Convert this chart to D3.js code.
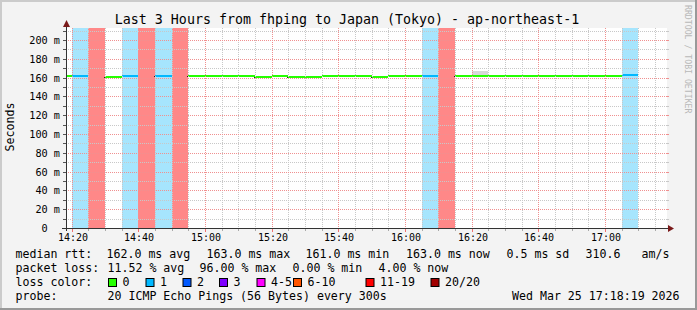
<!DOCTYPE html>
<html><head><meta charset="utf-8">
<script src="https://cdn.jsdelivr.net/npm/d3@7"></script>
<style>
html,body{margin:0;padding:0;background:#f3f3f3;}
svg{display:block;}
text{font-family:"DejaVu Sans Mono",monospace;fill:#000;}
</style></head>
<body>
<svg id="chart" width="697" height="310"></svg>
<script>
// ---------- data ----------
const title = "Last 3 Hours from fhping to Japan (Tokyo) - ap-northeast-1";
const yAxisTitle = "Seconds";
const watermark = "RRDTOOL / TOBI OETIKER";
const rangeStart = "14:18:19";
const rangeEnd = "17:18:19";
const binStarts = ["14:15","14:20","14:25","14:30","14:35","14:40","14:45","14:50","14:55","15:00",
  "15:05","15:10","15:15","15:20","15:25","15:30","15:35","15:40","15:45","15:50",
  "15:55","16:00","16:05","16:10","16:15","16:20","16:25","16:30","16:35","16:40",
  "16:45","16:50","16:55","17:00","17:05"];
// median RTT in ms (null = no median drawn)
const medianMs = [162,162,null,161,162,null,162,null,162,162,
  162,162,161,162,161,161,162,162,162,161,
  162,162,162,null,162,162,162,162,162,162,
  162,162,162,162,163];
// lost pings out of 20
const lostPings = [0,1,19,0,1,19,1,19,0,0,
  0,0,0,0,0,0,0,0,0,0,
  0,0,1,19,0,0,0,0,0,0,
  0,0,0,0,1];
// smoke (max ping) in ms
const smokeMaxMs = [162.5,162.5,null,161.5,162.5,null,162.5,null,162.5,162.5,
  162.5,162.5,161.5,162.5,161.5,161.5,162.5,162.5,162.5,161.5,
  162.5,162.5,162.5,null,162.5,166.5,162.5,162.5,162.5,162.5,
  162.5,162.5,162.5,162.5,163.5];
const xTickLabels = ["14:20","14:40","15:00","15:20","15:40","16:00","16:20","16:40","17:00"];
const yTickValues = [0,20,40,60,80,100,120,140,160,180,200];
const yTickLabels = ["0","20 m","40 m","60 m","80 m","100 m","120 m","140 m","160 m","180 m","200 m"];
const yMaxMs = 212.77;
const lossClassNames = ["0","1","2","3","4-5","6-10","11-19","20/20"];
const lossClassColors = ["#26ff00","#00b8ff","#0059ff","#7e00ff","#ff00ff","#ff5500","#ff0000","#a10000"];
const lossBgColors = [null,"#a6e5fd","#99bdff","#cb99ff","#ff99ff","#ffbb99","#ff8888","#d99999"];
const rttLabel = "median rtt:";
const rttStats = ["162.0 ms avg","163.0 ms max","161.0 ms min","163.0 ms now","0.5 ms sd","310.6","am/s"];
const lossLabel = "packet loss:";
const lossStats = ["11.52 % avg","96.00 % max","0.00 % min","4.00 % now"];
const colorLabel = "loss color:";
const probeLabel = "probe:";
const probeText = "20 ICMP Echo Pings (56 Bytes) every 300s";
const dateText = "Wed Mar 25 17:18:19 2026";

// ---------- helpers ----------
const W = 697, H = 310;
const day = "2026-03-25T";
const pt = s => new Date(day + (s.length === 5 ? s + ":00" : s));
const lossClass = n => n === 0 ? 0 : n === 1 ? 1 : n === 2 ? 2 : n === 3 ? 3 : n <= 5 ? 4 : n <= 10 ? 5 : n <= 19 ? 6 : 7;

const X0 = 66, X1 = 666, Y0 = 228, Y1 = 28;
const x = d3.scaleTime().domain([pt(rangeStart), pt(rangeEnd)]).range([X0, X1]);
const y = d3.scaleLinear().domain([0, yMaxMs]).range([Y0, Y1]);

const svg = d3.select("#chart");

// canvas + shading border
svg.append("rect").attr("x",0).attr("y",0).attr("width",W).attr("height",H).attr("fill","#f3f3f3");
svg.append("rect").attr("x",0).attr("y",0).attr("width",W).attr("height",2).attr("fill","#cbcbcb");
svg.append("rect").attr("x",0).attr("y",0).attr("width",2).attr("height",H).attr("fill","#cbcbcb");
svg.append("rect").attr("x",0).attr("y",H-2).attr("width",W).attr("height",2).attr("fill","#999");
svg.append("rect").attr("x",W-2).attr("y",0).attr("width",2).attr("height",H).attr("fill","#999");

// plot background
svg.append("rect").attr("x",X0).attr("y",Y1).attr("width",X1-X0+1).attr("height",Y0-Y1).attr("fill","#fff");

svg.append("defs").append("clipPath").attr("id","plotclip")
  .append("rect").attr("x",X0).attr("y",Y1).attr("width",X1-X0+1).attr("height",Y0-Y1);
const plot = svg.append("g").attr("clip-path","url(#plotclip)");

const bins = binStarts.map((s,i) => {
  const t0 = pt(s);
  const t1 = new Date(t0.getTime() + 300000);
  return {t0, t1, med: medianMs[i], lost: lostPings[i], smoke: smokeMaxMs[i], cls: lossClass(lostPings[i])};
});

// loss background bars
plot.selectAll("rect.loss").data(bins.filter(b => b.cls > 0)).join("rect")
  .attr("class","loss")
  .attr("x", b => Math.round(x(b.t0)))
  .attr("width", b => Math.round(x(b.t1)) - Math.round(x(b.t0)))
  .attr("y", Y1).attr("height", Y0 - Y1)
  .attr("fill", b => lossBgColors[b.cls]);

// smoke
plot.selectAll("rect.smoke").data(bins.filter(b => b.smoke != null)).join("rect")
  .attr("class","smoke")
  .attr("x", b => Math.round(x(b.t0)))
  .attr("width", b => Math.round(x(b.t1)) - Math.round(x(b.t0)))
  .attr("y", b => Math.round(y(b.smoke)))
  .attr("height", b => Math.max(0, Math.round(y(b.med)) - Math.round(y(b.smoke))))
  .attr("fill", "#d8d8d8");

// grid
const minorY = d3.range(0, yMaxMs, 10);
const minorX = d3.timeMinute.every(5).range(pt(rangeStart), pt(rangeEnd));
const majorX = d3.timeMinute.every(20).range(pt(rangeStart), pt(rangeEnd));
const grid = svg.append("g");
grid.selectAll("line.hmin").data(minorY.filter(v => v % 20 !== 0)).join("line")
  .attr("x1", X0).attr("x2", X1+1)
  .attr("y1", v => Math.round(y(v)) + 0.5).attr("y2", v => Math.round(y(v)) + 0.5)
  .attr("stroke","#c8c8c8").attr("stroke-dasharray","1,1");
grid.selectAll("line.vmin").data(minorX.filter(t => t.getMinutes() % 20 !== 0)).join("line")
  .attr("y1", Y1).attr("y2", Y0)
  .attr("x1", t => Math.round(x(t)) + 0.5).attr("x2", t => Math.round(x(t)) + 0.5)
  .attr("stroke","#c8c8c8").attr("stroke-dasharray","1,1");
grid.selectAll("line.hmaj").data(yTickValues.filter(v => v > 0)).join("line")
  .attr("x1", X0).attr("x2", X1+1)
  .attr("y1", v => Math.round(y(v)) + 0.5).attr("y2", v => Math.round(y(v)) + 0.5)
  .attr("stroke","#f09090").attr("stroke-dasharray","1,1");
grid.selectAll("line.vmaj").data(majorX).join("line")
  .attr("y1", Y1).attr("y2", Y0)
  .attr("x1", t => Math.round(x(t)) + 0.5).attr("x2", t => Math.round(x(t)) + 0.5)
  .attr("stroke","#f09090").attr("stroke-dasharray","1,1");

// median line segments
const medBins = bins.filter(b => b.med != null);
plot.selectAll("line.med").data(medBins).join("line")
  .attr("class","med")
  .attr("x1", b => Math.round(x(b.t0))).attr("x2", b => Math.round(x(b.t1)))
  .attr("y1", b => Math.round(y(b.med))).attr("y2", b => Math.round(y(b.med)))
  .attr("stroke", b => lossClassColors[b.cls]).attr("stroke-width", 2);
// step markers
const dots = bins.filter((b,i) => b.med != null && i > 0 && (bins[i-1].med == null || bins[i-1].med > b.med));
plot.selectAll("rect.dot").data(dots).join("rect")
  .attr("x", b => Math.round(x(b.t0)) - 1).attr("y", b => Math.round(y(b.med)))
  .attr("width", 1).attr("height", 1).attr("fill", "#222");

// ticks
const tk = svg.append("g");
tk.selectAll("line.ty").data(minorY).join("line")
  .attr("x1", X0-3).attr("x2", X0)
  .attr("y1", v => Math.round(y(v)) + 0.5).attr("y2", v => Math.round(y(v)) + 0.5)
  .attr("stroke","#555");
tk.selectAll("line.tyr").data(minorY).join("line")
  .attr("x1", X1+1).attr("x2", X1+3)
  .attr("y1", v => Math.round(y(v)) + 0.5).attr("y2", v => Math.round(y(v)) + 0.5)
  .attr("stroke", v => v % 20 === 0 ? "#f09090" : "#c8c8c8");
tk.selectAll("line.tx").data(minorX).join("line")
  .attr("x1", t => Math.round(x(t)) + 0.5).attr("x2", t => Math.round(x(t)) + 0.5)
  .attr("y1", Y0+1).attr("y2", t => t.getMinutes() % 20 === 0 ? Y0+4 : Y0+3)
  .attr("stroke", t => t.getMinutes() % 20 === 0 ? "#f07070" : "#aaa");

// axes
svg.append("line").attr("x1", X0+0.5).attr("x2", X0+0.5).attr("y1", Y0+3).attr("y2", 24).attr("stroke","#333");
svg.append("line").attr("x1", X0-4).attr("x2", X1+5).attr("y1", Y0+0.5).attr("y2", Y0+0.5).attr("stroke","#333");
svg.append("path").attr("d", `M${X0+0.5},20 L${X0+4},27 L${X0-3},27 Z`).attr("fill","#7a1a1a");
svg.append("path").attr("d", `M${X1+8},${Y0+0.5} L${X1+2},${Y0-3} L${X1+2},${Y0+4} Z`).attr("fill","#7a1a1a");

// y labels
const cw = 6.13;
svg.append("g").selectAll("text").data(yTickValues).join("text")
  .attr("x", (v,i) => yTickLabels[i].includes("m") ? 60 : 60 - 2*cw)
  .attr("y", v => Math.round(y(v)) + 0.5)
  .attr("text-anchor","end").attr("dominant-baseline","central")
  .style("font-size","10.2px")
  .text((v,i) => yTickLabels[i]);

// x labels
svg.append("g").selectAll("text").data(xTickLabels).join("text")
  .attr("x", s => Math.round(x(pt(s))) + 1)
  .attr("y", 237)
  .attr("text-anchor","middle").attr("dominant-baseline","central")
  .style("font-size","10px")
  .text(s => s);

// title
svg.append("text").attr("x", 347).attr("y", 19).attr("text-anchor","middle")
  .attr("dominant-baseline","central").style("font-size","13.3px").text(title);
// y title
svg.append("text").attr("transform","translate(10,127) rotate(-90)")
  .attr("text-anchor","middle").attr("dominant-baseline","central")
  .style("font-size","11.6px").text(yAxisTitle);
// watermark
svg.append("text").attr("transform","translate(688,5) rotate(90)")
  .attr("text-anchor","start").attr("dominant-baseline","central")
  .style("font-size","8.2px").style("fill","#b8b8b8").text(watermark);

// legend
const lg = svg.append("g").style("font-size","11.6px");
const L1 = 254.3, L2 = 268.3, L3 = 282.3, L4 = 296.3;
const put = (txt, xx, yy) => lg.append("text").attr("x", xx).attr("y", yy).attr("dominant-baseline","central").text(txt);
put(rttLabel, 15.5, L1);
[106.5, 206.5, 305.5, 406, 506.5, 585.5, 641.5].forEach((xx,i) => put(rttStats[i], xx, L1));
put(lossLabel, 15.5, L2);
[107.5, 199.5, 292.5, 378.5].forEach((xx,i) => put(lossStats[i], xx, L2));
put(colorLabel, 15.5, L3);
const swX = [108, 145.5, 182.5, 219, 256.5, 293, 365.5, 430.5];
lossClassNames.forEach((nm,i) => {
  lg.append("rect").attr("x", swX[i]+0.5).attr("y", 278.5).attr("width", 8).attr("height", 8)
    .attr("fill", lossClassColors[i]).attr("stroke","#000").attr("stroke-width",1);
  put(nm, swX[i] + 14.5, L3);
});
put(probeLabel, 15.5, L4);
put(probeText, 107.5, L4);
put(dateText, 512, L4);
</script>
</body></html>
